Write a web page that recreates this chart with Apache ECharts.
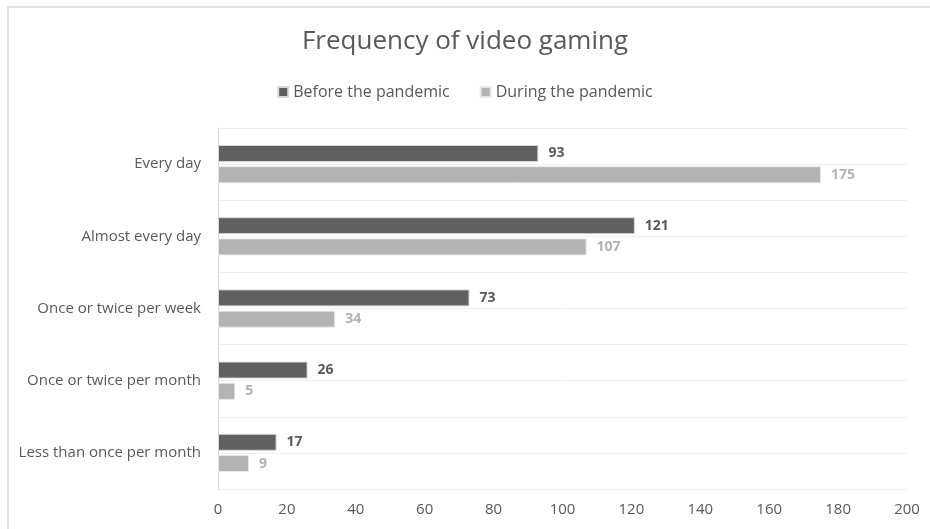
<!DOCTYPE html>
<html>
<head>
<meta charset="utf-8">
<script src="https://cdn.jsdelivr.net/npm/echarts@6/dist/echarts.min.js"></script>
<style>
  html, body { margin: 0; padding: 0; background: #fff; }
  #chart { width: 930px; height: 529px; }
</style>
</head>
<body>
<div id="chart"></div>
<script>
var categories = ['Less than once per month', 'Once or twice per month', 'Once or twice per week', 'Almost every day', 'Every day'];
var beforeValues = [17, 26, 73, 121, 93];
var duringValues = [9, 5, 34, 107, 175];
var seriesNames = ['Before the pandemic', 'During the pandemic'];
// half-category rows, only used to draw the extra gridlines
var halfRows = ['', '', '', '', '', '', '', '', '', ''];

var chartDom = document.getElementById('chart');
var myChart = echarts.init(chartDom);
var font = 'Open Sans';

var option = {
    color: ['#606060', '#b3b3b3'],
    textStyle: { fontFamily: font },
    title: {
        text: 'Frequency of video gaming',
        left: 'center',
        top: 24,
        textStyle: { fontFamily: font, fontSize: 26, fontWeight: 'normal', color: '#595959' }
    },
    legend: {
        top: 79,
        left: 'center',
        itemWidth: 10,
        itemHeight: 10,
        itemGap: 30,
        icon: 'rect',
        textStyle: { fontFamily: font, fontSize: 16, color: '#595959' },
        data: seriesNames
    },
    graphic: [{
        type: 'rect',
        shape: { x: 8, y: 7, width: 940, height: 540 },
        style: { fill: 'none', stroke: '#d9d9d9', lineWidth: 1.5 },
        silent: true
    }],
    grid: { left: 218, right: 23, top: 128, bottom: 40 },
    xAxis: {
        type: 'value',
        min: 0,
        max: 200,
        interval: 20,
        axisLine: { show: false },
        axisTick: { show: false },
        splitLine: { show: false },
        axisLabel: { fontFamily: font, fontSize: 15, color: '#595959', margin: 13 }
    },
    yAxis: [{
        type: 'category',
        data: categories,
        axisLine: { show: true, lineStyle: { color: '#d9d9d9' } },
        axisTick: { show: false },
        splitLine: { show: true, lineStyle: { color: '#eeeeee' } },
        axisLabel: { fontFamily: font, fontSize: 15, color: '#595959', margin: 17 }
    }, {
        type: 'category',
        data: halfRows,
        position: 'left',
        axisLine: { show: false },
        axisTick: { show: false },
        axisLabel: { show: false },
        splitLine: { show: true, lineStyle: { color: '#eeeeee' } }
    }],
    series: [{
        name: seriesNames[0],
        type: 'bar',
        data: beforeValues,
        barWidth: 17,
        barGap: '25%',
        itemStyle: { color: '#606060', borderColor: '#d9d9d9', borderWidth: 1 },
        label: {
            show: true,
            position: 'right',
            distance: 10,
            fontFamily: font,
            fontSize: 14,
            fontWeight: 'bold',
            color: '#595959'
        }
    }, {
        name: seriesNames[1],
        type: 'bar',
        data: duringValues,
        barWidth: 17,
        barGap: '25%',
        itemStyle: { color: '#b3b3b3', borderColor: '#e6e6e6', borderWidth: 1 },
        label: {
            show: true,
            position: 'right',
            distance: 10,
            fontFamily: font,
            fontSize: 14,
            fontWeight: 'bold',
            color: '#b3b3b3'
        }
    }]
};

option && myChart.setOption(option);
</script>
</body>
</html>
